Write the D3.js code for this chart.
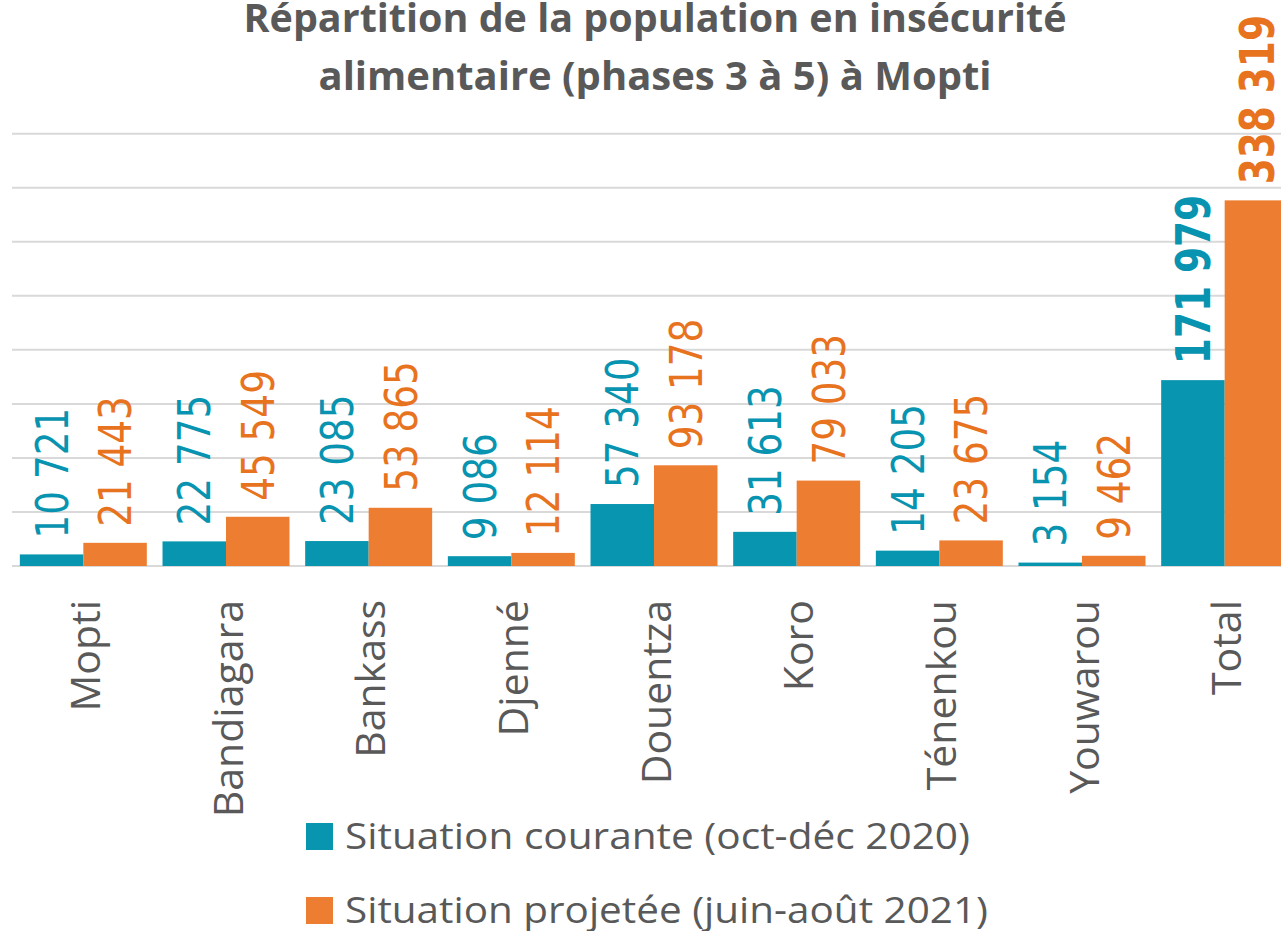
<!DOCTYPE html>
<html>
<head>
<meta charset="utf-8">
<script src="https://cdn.jsdelivr.net/npm/d3@7"></script>
<style>
  body { margin: 0; background: #fff; }
  svg { display: block; overflow: hidden; }
</style>
</head>
<body>
<div id="chart"></div>
<script>
// data
const districts = ["Mopti", "Bandiagara", "Bankass", "Djenné", "Douentza", "Koro", "Ténenkou", "Youwarou", "Total"];
const courante = [10721, 22775, 23085, 9086, 57340, 31613, 14205, 3154, 171979];
const projetee = [21443, 45549, 53865, 12114, 93178, 79033, 23675, 9462, 338319];
const seriesNames = ["Situation courante (oct-déc 2020)", "Situation projetée (juin-août 2021)"];
const gridTicks = [0, 50000, 100000, 150000, 200000, 250000, 300000, 350000, 400000];
const titleLines = ["Répartition de la population en insécurité", "alimentaire (phases 3 à 5) à Mopti"];

const width = 1281, height = 931;
const marginLeft = 12, plotRight = 1296;
const baseY = 566, topY = 133.7;
const barColors = ["#0795b0", "#ed7d31"];
const labelColors = ["#0894b0", "#e8731f"];
const textGrey = "#595959";

const fmt = d3.formatLocale({decimal: ",", thousands: "\u00a0", grouping: [3], currency: ["", ""]}).format(",d");

const rows = districts.map((d, i) => ({district: d, values: [courante[i], projetee[i]]}));

const svg = d3.select("#chart").append("svg")
    .attr("width", width)
    .attr("height", height)
    .attr("viewBox", [0, 0, width, height]);

const x0 = d3.scaleBand()
    .domain(districts)
    .range([marginLeft, plotRight])
    .paddingInner(0.11)
    .paddingOuter(0.055);
const x1 = d3.scaleBand()
    .domain([0, 1])
    .range([0, x0.bandwidth()]);
const y = d3.scaleLinear()
    .domain([0, 400000])
    .range([baseY, topY]);

// gridlines
svg.append("g")
    .attr("stroke", "#d9d9d9")
    .attr("stroke-width", 2)
  .selectAll("line")
  .data(gridTicks)
  .join("line")
    .attr("x1", marginLeft)
    .attr("x2", width)
    .attr("y1", d => y(d))
    .attr("y2", d => y(d));

// bars
const groups = svg.append("g")
  .selectAll("g")
  .data(rows)
  .join("g")
    .attr("transform", d => `translate(${x0(d.district)},0)`);

groups.selectAll("rect")
  .data(d => d.values.map((v, k) => ({k, v, total: d.district === "Total"})))
  .join("rect")
    .attr("x", d => x1(d.k))
    .attr("y", d => y(d.v))
    .attr("width", x1.bandwidth())
    .attr("height", d => baseY - y(d.v))
    .attr("fill", d => barColors[d.k]);

// value labels, rotated, above the bars
groups.selectAll("text")
  .data(d => d.values.map((v, k) => ({k, v, total: d.district === "Total"})))
  .join("text")
    .attr("transform", d => {
        const cx = x1(d.k) + x1.bandwidth() / 2;
        const sx = d.total ? 0.78 : 0.83;
        return `translate(${cx},${y(d.v) - 16}) rotate(-90) scale(${sx},1)`;
    })
    .attr("dy", "0.36em")
    .attr("font-family", "'DejaVu Sans', sans-serif")
    .attr("font-size", d => d.total ? 48 : 45)
    .attr("font-weight", d => d.total ? "bold" : "normal")
    .attr("fill", d => labelColors[d.k])
    .text(d => fmt(d.v));

// category labels
svg.append("g")
  .selectAll("text")
  .data(districts)
  .join("text")
    .attr("transform", d => `translate(${x0(d) + x0.bandwidth() / 2},600) rotate(-90)`)
    .attr("dy", "0.41em")
    .attr("text-anchor", "end")
    .attr("font-family", "'Open Sans', sans-serif")
    .attr("font-size", 41)
    .attr("fill", textGrey)
    .text(d => d);

// title
const titleWidths = [823, 673];
svg.append("g")
  .selectAll("text")
  .data(titleLines)
  .join("text")
    .attr("x", 655)
    .attr("y", (d, i) => 32 + i * 58)
    .attr("text-anchor", "middle")
    .attr("font-family", "'Open Sans', sans-serif")
    .attr("font-weight", "bold")
    .attr("font-size", 39)
    .attr("fill", textGrey)
    .attr("textLength", (d, i) => titleWidths[i])
    .attr("lengthAdjust", "spacingAndGlyphs")
    .text(d => d);

// legend
const legendWidths = [625, 643];
const legend = svg.append("g")
  .selectAll("g")
  .data(seriesNames)
  .join("g")
    .attr("transform", (d, i) => `translate(306,${823 + i * 74})`);
legend.append("rect")
    .attr("width", 27)
    .attr("height", 27)
    .attr("fill", (d, i) => barColors[i]);
legend.append("text")
    .attr("x", 39)
    .attr("y", 26)
    .attr("font-family", "'Open Sans', sans-serif")
    .attr("font-size", 37)
    .attr("fill", textGrey)
    .attr("textLength", (d, i) => legendWidths[i])
    .attr("lengthAdjust", "spacingAndGlyphs")
    .text(d => d);
</script>
</body>
</html>
